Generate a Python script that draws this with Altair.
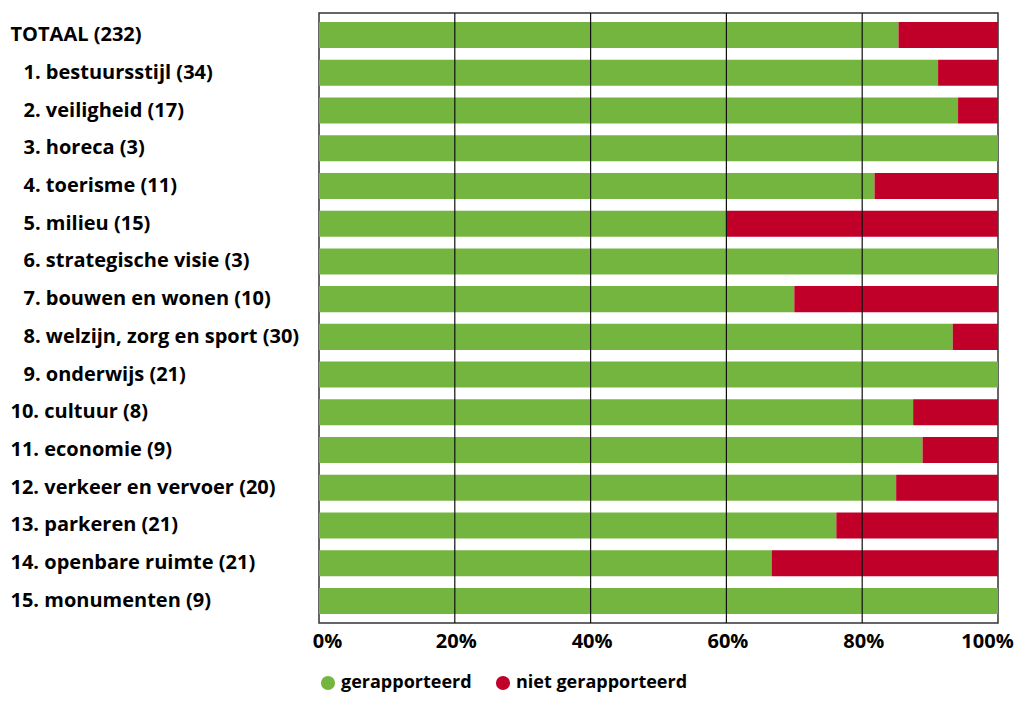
import altair as alt
import pandas as pd

categories = [
    "TOTAAL (232)",
    "1. bestuursstijl (34)",
    "2. veiligheid (17)",
    "3. horeca (3)",
    "4. toerisme (11)",
    "5. milieu (15)",
    "6. strategische visie (3)",
    "7. bouwen en wonen (10)",
    "8. welzijn, zorg en sport (30)",
    "9. onderwijs (21)",
    "10. cultuur (8)",
    "11. economie (9)",
    "12. verkeer en vervoer (20)",
    "13. parkeren (21)",
    "14. openbare ruimte (21)",
    "15. monumenten (9)",
]
gerapporteerd = [198, 31, 16, 3, 9, 9, 3, 7, 28, 21, 7, 8, 17, 16, 14, 9]
niet_gerapporteerd = [34, 3, 1, 0, 2, 6, 0, 3, 2, 0, 1, 1, 3, 5, 7, 0]
series = ["gerapporteerd", "niet gerapporteerd"]
colors = ["#74b53f", "#c00028"]
grid_ticks = [0.2, 0.4, 0.6, 0.8]
x_ticks = [0, 0.2, 0.4, 0.6, 0.8, 1.0]

rows = []
for i, c in enumerate(categories):
    rows.append({"cat": c, "serie": series[0], "n": gerapporteerd[i], "ord": 0})
    rows.append({"cat": c, "serie": series[1], "n": niet_gerapporteerd[i], "ord": 1})
df = pd.DataFrame(rows)

FONT = "Open Sans"
FS = 20

bars = alt.Chart(df).mark_bar().encode(
    y=alt.Y("cat:N", sort=categories, title=None,
            scale=alt.Scale(paddingInner=0.31, paddingOuter=0.24),
            axis=alt.Axis(labelAlign="left",
                          labelPadding={"condition": {"test": "datum.value[1] == '.'", "value": 296},
                                        "value": 309},
                          ticks=False, tickSize=0,
                          domain=False, labelFont=FONT, labelFontSize=FS,
                          labelFontWeight="bold", labelColor="#000", labelLimit=400)),
    x=alt.X("n:Q", stack="normalize", title=None,
            scale=alt.Scale(domain=[0, 1], nice=False),
            axis=alt.Axis(format="%", values=x_ticks, grid=False, labelFlush=False,
                          ticks=False, tickSize=0, domain=False, labelPadding=8,
                          labelOffset={"condition": [
                              {"test": "datum.value == 0", "value": 8},
                              {"test": "datum.value == 1", "value": -11}],
                              "value": 1},
                          labelFont=FONT, labelFontSize=FS, labelFontWeight="bold",
                          labelColor="#000")),
    color=alt.Color("serie:N", scale=alt.Scale(domain=series, range=colors), title=None,
                    legend=alt.Legend(orient="bottom", direction="horizontal",
                                      symbolType="circle", symbolSize=200,
                                      symbolStrokeWidth=0, labelFont=FONT,
                                      labelFontSize=18, labelFontWeight="bold",
                                      labelColor="#000", columnPadding=22,
                                      offset=23, labelLimit=300)),
    order=alt.Order("ord:Q"),
)

rules = alt.Chart(pd.DataFrame({"v": grid_ticks})).mark_rule(
    color="#111", strokeWidth=1.2
).encode(x=alt.X("v:Q"))

chart = alt.layer(bars, rules).properties(
    width=679, height=610,
    autosize=alt.AutoSizeParams(type="none"),
    padding={"left": 311, "top": 5, "right": 18, "bottom": 71},
).configure_view(stroke="#333", strokeWidth=1.5)

chart.save("out.html", embed_options={"renderer": "svg", "actions": False})
